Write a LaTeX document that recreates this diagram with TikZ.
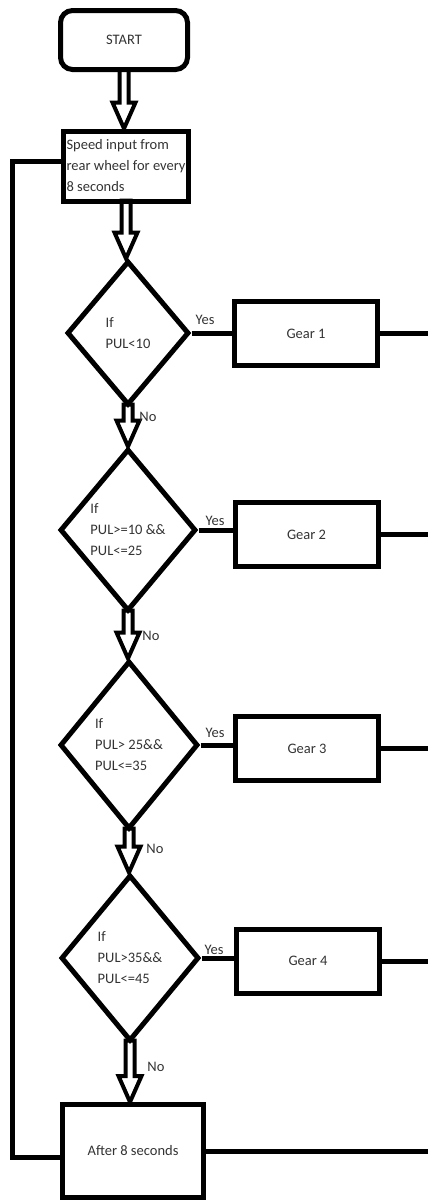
\documentclass[tikz,border=0pt]{standalone}
\usepackage{fontspec}
\setmainfont{Carlito}
\usetikzlibrary{shapes.geometric,calc}

\tikzset{
  box/.style={draw, line width=5pt, minimum width=143pt, minimum height=64pt, inner sep=2pt, text=black!80},
  cond/.style={diamond, draw, line width=5pt, inner sep=0pt, align=left, text=black!80},
  link/.style={line width=5pt},
  hollow/.style={line width=4pt, line join=miter},
  lbl/.style={text=black!80, inner sep=0pt},
}

% hollow block arrow from the bottom of one node to the top of another
\newcommand{\blockarrow}[2]{%
  \draw[hollow] let \p1=(#1.south), \p2=(#2.north) in
    (\x1-4.5pt,\y1+3pt) -- (\x1-4.5pt,\y2+26pt) -- (\x1-11.5pt,\y2+26pt) -- (\x1,\y2)
    -- (\x1+11.5pt,\y2+26pt) -- (\x1+4.5pt,\y2+26pt) -- (\x1+4.5pt,\y1+3pt) -- cycle;}

\begin{document}
\begin{tikzpicture}[x=1pt, y=-1pt, font=\fontsize{14.5}{21}\selectfont]
  \useasboundingbox (0,0) rectangle (428,1203);

  % Start and input
  \node[box, rounded corners=12pt, minimum width=127pt, minimum height=59pt] (start) at (124,40) {START};
  \node[box, minimum width=125pt, minimum height=70pt, inner xsep=0pt, align=left]
    (speed) at (126,166) {Speed input from\\rear wheel for every\\8 seconds};

  % Conditions
  \node[cond, minimum width=122pt, minimum height=144pt] (d1) at (128,333) {If\\PUL<10};
  \node[cond, minimum width=136pt, minimum height=162pt] (d2) at (128,530) {If\\PUL>=10 \&\&\\PUL<=25};
  \node[cond, minimum width=138pt, minimum height=168pt] (d3) at (129,745) {If\\PUL> 25\&\&\\PUL<=35};
  \node[cond, minimum width=138pt, minimum height=166pt] (d4) at (130,958) {If\\PUL>35\&\&\\PUL<=45};

  % Gears
  \node[box] (g1) at (306,333.5) {Gear 1};
  \node[box] (g2) at (306.5,534.5) {Gear 2};
  \node[box] (g3) at (307,748.5) {Gear 3};
  \node[box] (g4) at (308,961) {Gear 4};

  % Wait
  \node[box, minimum width=141pt, minimum height=93pt] (after) at (133,1151) {After 8 seconds};

  \coordinate (edge) at (432,0);
  \coordinate (back) at (12,0);

  % Flow arrows
  \blockarrow{start}{speed}
  \blockarrow{speed}{d1}
  \blockarrow{d1}{d2}
  \blockarrow{d2}{d3}
  \blockarrow{d3}{d4}
  \blockarrow{d4}{after}

  % Yes branches
  \foreach \i in {1,...,4} {
    \draw[link] (d\i.east) -- (d\i.east -| g\i.west);
    \draw[link] (g\i.east) -- (g\i.east -| edge);
  }
  \draw[link] (after.east) -- (after.east -| edge);

  % Loop back
  \draw[link] ([yshift=-6pt]after.west) -- ([yshift=-6pt]after.west -| back)
    -- ([yshift=5pt]speed.west -| back) -- ([yshift=5pt]speed.west);

  % Labels
  \node[lbl] (y1) at (205,320) {Yes};
  \node[lbl] (y2) at (215,521) {Yes};
  \node[lbl] (y3) at (215,733) {Yes};
  \node[lbl] (y4) at (214,950) {Yes};
  \node[lbl] (n1) at (148,417) {No};
  \node[lbl] (n2) at (151,636) {No};
  \node[lbl] (n3) at (155,849) {No};
  \node[lbl] (n4) at (156,1067) {No};
\end{tikzpicture}
\end{document}
